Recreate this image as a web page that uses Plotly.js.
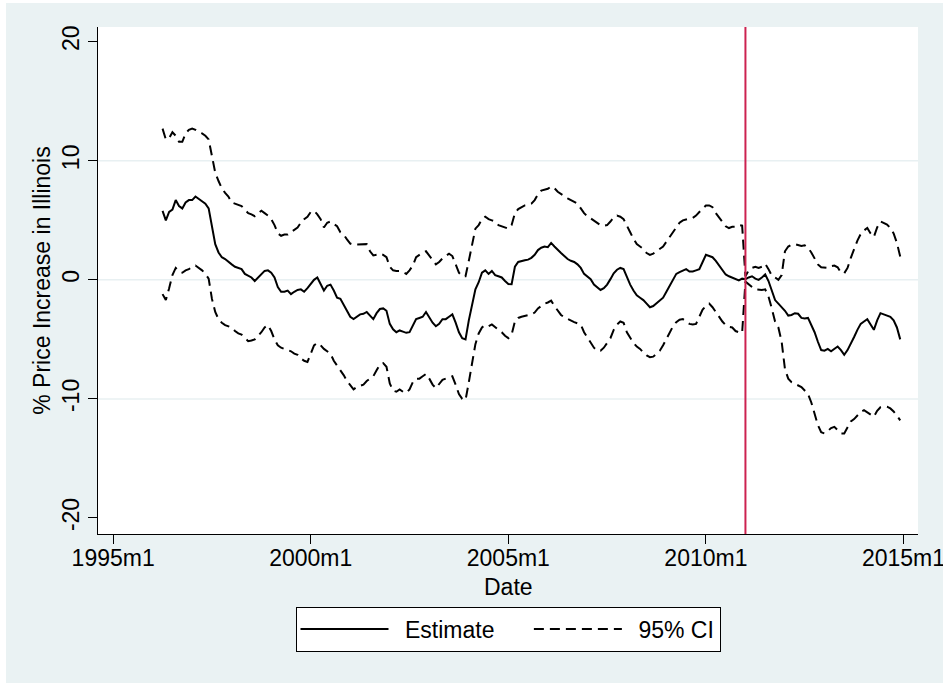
<!DOCTYPE html>
<html>
<head>
<meta charset="utf-8">
<script src="https://cdn.plot.ly/plotly-3.0.1.min.js"></script>
<style>
  html, body { margin: 0; padding: 0; background: #ffffff; }
  #chart { position: absolute; left: 6px; top: 3px; width: 940px; height: 680px; }
  #edge { position: absolute; left: 943px; top: 0; width: 3px; height: 683px; background: #ffffff; }
</style>
</head>
<body>
<div id="chart"></div>
<div id="edge"></div>
<script>
// Stata monthly dates: months since 1960m1. Series start at 1996m4.
const firstMonth = 435;
const tickMonths = [420, 480, 540, 600, 660];
const tickLabels = ['1995m1', '2000m1', '2005m1', '2010m1', '2015m1'];
const yTicks = [-20, -10, 0, 10, 20];
const yTickLabels = ['-20', '-10', '0', '10', '20'];
const gridLevels = [-10, 0, 10];
const policyMonth = 612; // 2011m1

const estimate = [
	5.8, 5.0, 5.7, 5.9, 6.7, 6.2, 6.0, 6.5, 6.7, 6.7,
	7.0, 6.8, 6.6, 6.4, 6.0, 4.6, 3.0, 2.3, 1.9, 1.75,
	1.5, 1.3, 1.1, 1.0, 0.9, 0.5, 0.35, 0.2, -0.1, 0.2,
	0.5, 0.75, 0.8, 0.6, 0.2, -0.6, -1.0, -1.0, -0.9, -1.2,
	-1.0, -0.85, -0.8, -1.0, -0.7, -0.3, 0.0, 0.2, -0.3, -0.9,
	-0.5, -0.4, -0.9, -1.5, -1.6, -2.1, -2.7, -3.1, -3.3, -3.1,
	-2.9, -2.85, -2.7, -3.0, -3.3, -2.8, -2.45, -2.4, -2.6, -3.7,
	-4.15, -4.4, -4.25, -4.35, -4.45, -4.4, -3.8, -3.3, -3.2, -3.1,
	-2.7, -3.2, -3.6, -3.9, -3.7, -3.3, -3.3, -3.1, -2.9, -3.6,
	-4.4, -4.9, -5.0, -3.4, -2.0, -0.8, -0.2, 0.6, 0.8, 0.5,
	0.75, 0.4, 0.3, 0.2, -0.1, -0.35, -0.37, 1.1, 1.5, 1.6,
	1.65, 1.7, 1.85, 2.1, 2.5, 2.7, 2.8, 2.75, 3.1, 2.8,
	2.5, 2.25, 2.0, 1.75, 1.6, 1.5, 1.3, 1.0, 0.5, 0.25,
	0.05, -0.4, -0.6, -0.85, -0.7, -0.4, 0.06, 0.55, 0.85, 1.0,
	0.9, 0.2, -0.4, -0.9, -1.3, -1.5, -1.7, -2.0, -2.3, -2.2,
	-1.95, -1.75, -1.5, -1.0, -0.5, 0.0, 0.5, 0.65, 0.78, 0.9,
	0.7, 0.7, 0.8, 0.9, 1.5, 2.1, 2.0, 1.9, 1.6, 1.2,
	0.75, 0.45, 0.3, 0.2, 0.05, -0.05, 0.1, 0.05, 0.2, 0.3,
	0.1, 0.0, 0.2, 0.45, -0.1, -1.0, -1.7, -2.0, -2.3, -2.6,
	-3.0, -2.95, -2.8, -2.85, -3.2, -3.25, -3.2, -3.8, -4.4, -5.2,
	-5.9, -5.95, -5.8, -6.0, -5.8, -5.6, -5.9, -6.3, -5.9, -5.4,
	-4.8, -4.2, -3.7, -3.5, -3.3, -3.75, -4.2, -3.4, -2.8, -2.9,
	-3.0, -3.1, -3.4, -4.0, -5.0
];

const ciUpper = [
	12.7, 11.8, 11.9, 12.4, 12.1, 11.6, 11.6, 12.3, 12.6, 12.7,
	12.6, 12.4, 12.3, 12.1, 11.8, 10.4, 9.0, 8.3, 7.7, 7.3,
	7.0, 6.5, 6.4, 6.3, 6.2, 5.9, 5.6, 5.5, 5.35, 5.6,
	5.8, 5.6, 5.4, 5.1, 4.6, 3.9, 3.7, 3.8, 3.8, 4.0,
	4.2, 4.4, 4.8, 5.1, 5.3, 5.7, 5.8, 5.5, 5.1, 4.4,
	4.8, 4.9, 4.7, 4.5, 4.0, 3.8, 3.4, 3.05, 2.95, 2.95,
	3.0, 3.0, 3.0, 2.4, 2.05, 2.1, 2.2, 2.1, 1.9, 1.1,
	0.8, 0.75, 0.75, 0.65, 0.5, 0.8, 1.2, 1.9, 2.1, 2.3,
	2.4, 2.0, 1.6, 1.3, 1.5, 1.8, 2.0, 2.2, 2.0, 1.3,
	0.6, 0.3, 0.3, 1.6, 3.0, 4.3, 4.6, 5.1, 5.3, 5.1,
	5.0, 4.9, 4.6, 4.5, 4.4, 4.3, 4.6, 5.6, 5.95, 6.1,
	6.25, 6.3, 6.4, 6.7, 7.2, 7.5, 7.6, 7.65, 7.85, 7.7,
	7.4, 7.2, 7.0, 6.85, 6.7, 6.55, 6.4, 6.0, 5.6, 5.35,
	5.15, 5.0, 4.75, 4.6, 4.55, 4.6, 4.9, 5.25, 5.4, 5.3,
	5.1, 4.6, 4.0, 3.45, 3.0, 2.8, 2.6, 2.25, 2.1, 2.2,
	2.4, 2.6, 2.8, 3.2, 3.6, 3.9, 4.4, 4.8, 5.0, 5.1,
	5.15, 5.2, 5.4, 5.7, 6.0, 6.25, 6.25, 6.1, 5.6, 5.2,
	4.8, 4.5, 4.35, 4.45, 4.45, 4.6, 4.55, 0.3, 0.8, 1.0,
	1.1, 1.0, 1.1, 1.35, 0.9, 0.35, 0.2, 0.0, 0.4, 2.4,
	2.8, 2.95, 3.0, 2.9, 2.85, 2.9, 2.7, 2.3, 1.8, 1.3,
	1.05, 1.0, 1.0, 1.15, 1.2, 1.05, 0.6, 0.55, 1.0, 1.85,
	2.6, 3.3, 3.85, 4.15, 4.35, 3.9, 3.6, 4.4, 4.9, 4.8,
	4.65, 4.35, 3.9, 3.1, 1.95
];

const ciLower = [
	-1.2, -1.7, -0.7, 0.4, 1.0, 0.7, 0.6, 0.8, 0.9, 1.1,
	1.2, 1.0, 0.8, 0.5, 0.1, -1.6, -2.7, -3.3, -3.6, -3.8,
	-3.9, -4.0, -4.3, -4.5, -4.6, -4.9, -5.15, -5.1, -5.0, -4.7,
	-4.4, -4.0, -3.8, -4.3, -5.0, -5.5, -5.7, -5.8, -5.9, -6.0,
	-6.2, -6.3, -6.6, -6.8, -6.9, -6.2, -5.5, -5.3, -5.5, -5.8,
	-6.0, -6.2, -6.8, -7.2, -7.5, -8.0, -8.5, -8.9, -9.2, -9.0,
	-8.9, -8.8, -8.5, -8.3, -8.1, -7.6, -7.1, -7.0, -7.3, -8.7,
	-9.3, -9.4, -9.2, -9.4, -9.5, -9.2, -8.6, -8.3, -8.3, -8.1,
	-7.9, -8.3, -8.8, -9.1, -8.7, -8.4, -8.3, -8.2, -8.1, -8.8,
	-9.6, -10.0, -10.1, -8.6, -7.0, -5.4, -4.5, -4.0, -3.8, -3.9,
	-3.75, -4.0, -4.2, -4.4, -4.7, -4.9, -4.6, -3.5, -3.2, -3.1,
	-3.05, -3.0, -2.9, -2.75, -2.4, -2.2, -2.0, -1.9, -1.75, -2.2,
	-2.6, -2.95, -3.15, -3.3, -3.4, -3.55, -3.65, -3.75, -4.4, -4.8,
	-5.2, -5.7, -5.95, -5.95, -5.7, -5.3, -4.9, -4.2, -3.75, -3.5,
	-3.6, -4.4, -4.9, -5.3, -5.6, -5.8, -6.1, -6.35, -6.5, -6.45,
	-6.2, -5.95, -5.5, -5.0, -4.4, -3.9, -3.55, -3.35, -3.3, -3.5,
	-3.7, -3.75, -3.7, -3.1, -2.5, -2.2, -2.0, -2.3, -2.7, -3.2,
	-3.5, -3.8, -3.95, -4.0, -4.3, -4.4, -4.45, -0.15, -0.4, -0.6,
	-0.8, -0.85, -0.85, -0.8, -1.4, -2.4, -3.5, -4.0, -5.2, -7.5,
	-8.3, -8.6, -8.75, -8.9, -9.0, -9.3, -9.6, -10.3, -11.2, -12.2,
	-12.8, -12.9, -12.7, -12.45, -12.35, -12.6, -12.9, -12.9, -12.4, -11.9,
	-11.7, -11.4, -11.1, -10.95, -11.15, -11.35, -11.5, -11.0, -10.7, -10.65,
	-10.65, -10.8, -11.05, -11.4, -11.8
];

const months = estimate.map((v, i) => firstMonth + i);

const font = 'Liberation Sans, Arial, Helvetica, sans-serif';
const fontSize = 23;
const dashStyle = '10px,6px';
const lead = '\u2002';
const trail = '\u2002\u2002\u00a0';

let data = [
	{
		x: months, y: estimate, mode: 'lines', name: lead + 'Estimate' + trail,
		line: {color: '#000000', width: 2}
	},
	{
		x: months, y: ciUpper, mode: 'lines', name: lead + '95% CI', legendgroup: 'ci',
		line: {color: '#000000', width: 2, dash: dashStyle}
	},
	{
		x: months, y: ciLower, mode: 'lines', name: '95% CI', legendgroup: 'ci', showlegend: false,
		line: {color: '#000000', width: 2, dash: dashStyle}
	}
];

let shapes = gridLevels.map(v => ({
	type: 'line', xref: 'paper', x0: 0, x1: 1, yref: 'y', y0: v, y1: v,
	layer: 'below', line: {color: '#E8F0F2', width: 1.5}
}));
shapes.push({
	type: 'line', xref: 'x', x0: policyMonth, x1: policyMonth, yref: 'paper', y0: 0, y1: 1,
	line: {color: '#CC2250', width: 2}
});

let layout = {
	width: 940,
	height: 680,
	paper_bgcolor: '#EAF2F3',
	plot_bgcolor: '#FFFFFF',
	margin: {l: 92, r: 28, t: 24, b: 149},
	font: {family: font, size: fontSize, color: '#000000'},
	showlegend: true,
	xaxis: {
		range: [415.4, 664.4],
		tickvals: tickMonths,
		ticktext: tickLabels,
		ticks: 'outside', ticklen: 9, tickwidth: 1, tickcolor: '#000000',
		ticklabeloverflow: 'allow',
		ticklabelstandoff: -6,
		showline: true, linecolor: '#000000', linewidth: 1,
		showgrid: false, zeroline: false,
		tickfont: {family: font, size: fontSize}
	},
	yaxis: {
		range: [-21.35, 21.24],
		tickvals: yTicks,
		ticktext: yTickLabels,
		ticks: 'outside', ticklen: 9, tickwidth: 1, tickcolor: '#000000',
		tickangle: -90,
		showline: true, linecolor: '#000000', linewidth: 1,
		showgrid: false, zeroline: false,
		tickfont: {family: font, size: fontSize},
		title: {text: '% Price Increase in Illinois', font: {family: font, size: fontSize}, standoff: 0}
	},
	annotations: [{
		text: 'Date', xref: 'paper', x: 0.5, xanchor: 'center',
		yref: 'paper', y: -0.105, yanchor: 'middle', showarrow: false,
		font: {family: font, size: fontSize}
	}],
	legend: {
		orientation: 'h',
		x: 0.5, xanchor: 'center',
		y: -0.143, yanchor: 'top',
		bgcolor: '#FFFFFF',
		bordercolor: '#000000',
		borderwidth: 1,
		itemwidth: 88,
		font: {family: font, size: fontSize}
	},
	shapes: shapes
};

Plotly.newPlot('chart', data, layout, {displayModeBar: false, staticPlot: true});
</script>
</body>
</html>
